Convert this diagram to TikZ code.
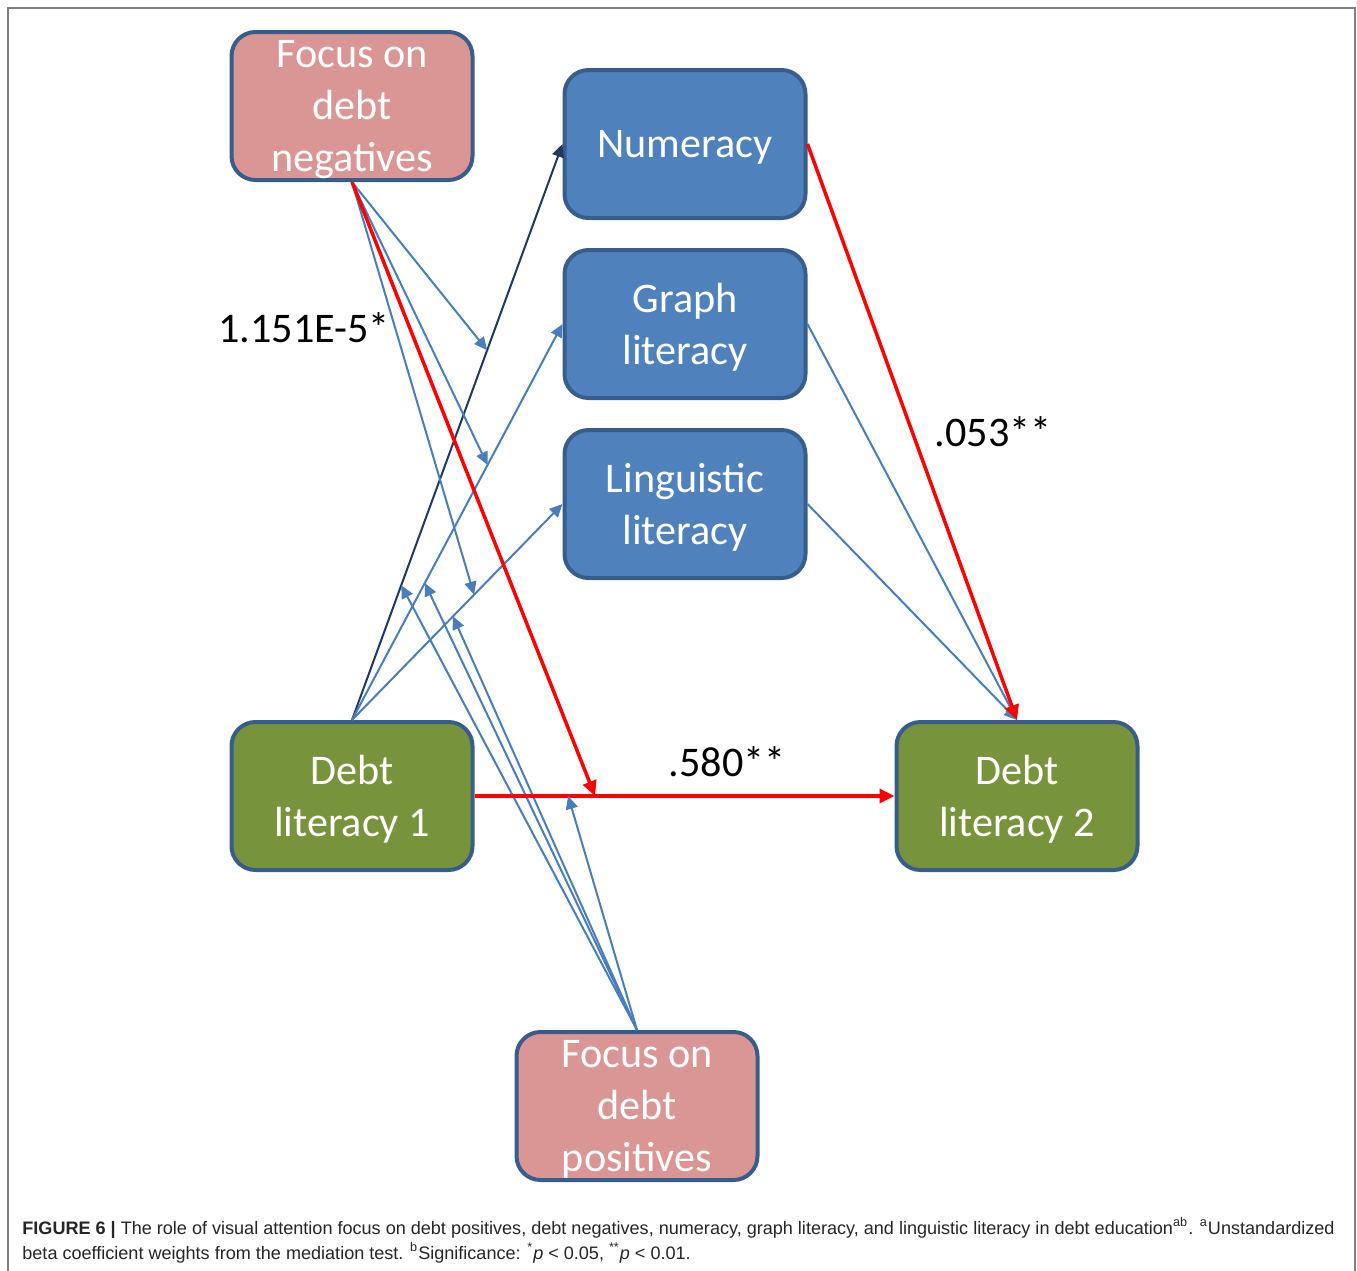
\documentclass[tikz,border=0pt]{standalone}
\usepackage{fontspec}
\setmainfont{Carlito}
\newfontfamily\capfont{Liberation Sans}
\usetikzlibrary{arrows.meta}
\definecolor{negpink}{RGB}{217,150,148}
\definecolor{medblue}{RGB}{79,129,189}
\definecolor{dlgreen}{RGB}{119,147,60}
\definecolor{edgeblue}{RGB}{56,93,138}
\definecolor{linkblue}{RGB}{74,126,187}
\definecolor{linknavy}{RGB}{31,56,100}

\begin{document}
\begin{tikzpicture}[x=0.5pt,y=-0.5pt,
    box/.style={draw=edgeblue,line width=2pt,rounded corners=12pt,minimum width=120.5pt,minimum height=74pt,inner sep=0pt,text depth=0pt,align=center,text=white,font=\fontsize{21.1}{26}\selectfont},
    link/.style={linkblue,line width=1pt,-{Triangle[length=6.5pt,width=6pt]}},
    redlink/.style={red,line width=1.75pt,-{Triangle[length=7.5pt,width=7pt]}},
    coef/.style={font=\fontsize{21.1}{26}\selectfont},
    caption/.style={anchor=base west,inner sep=0pt,text=black!85,font=\capfont\fontsize{9.03}{12.5}\selectfont}]
    \useasboundingbox (0,0) rectangle (1357,1271);
    % Draw frame
    \draw[gray,line width=0.75pt] (8,1271) -- (8,8) -- (1355,8) -- (1355,1271);
    % Draw boxes
    \node[box,fill=negpink] (neg) at (352,106) {Focus on\\debt\\negatives};
    \node[box,fill=medblue] (num) at (685,144) {Numeracy};
    \node[box,fill=medblue] (graph) at (685,324) {Graph\\literacy};
    \node[box,fill=medblue] (ling) at (685,504) {Linguistic\\literacy};
    \node[box,fill=dlgreen] (dl1) at (352,796) {Debt\\literacy 1};
    \node[box,fill=dlgreen] (dl2) at (1017,796) {Debt\\literacy 2};
    \node[box,fill=negpink] (pos) at (637,1106) {Focus on\\debt\\positives};
    % Draw paths through the mediators
    \draw[link,linknavy] (dl1.north) -- (num.west) coordinate[pos=0.642] (numN) coordinate[pos=0.234] (numP);
    \draw[link] (dl1.north) -- (graph.west) coordinate[pos=0.644] (graphN) coordinate[pos=0.346] (graphP);
    \draw[link] (dl1.north) -- (ling.west) coordinate[pos=0.58] (lingN) coordinate[pos=0.48] (lingP);
    \draw[link] (graph.east) -- (dl2.north);
    \draw[link] (ling.east) -- (dl2.north);
    \draw[redlink] (num.east) -- (dl2.north);
    % Draw moderation by focus on positives
    \draw[link] (pos.north) -- (numP);
    \draw[link] (pos.north) -- (graphP);
    \draw[link] (pos.north) -- (lingP);
    % Draw moderation by focus on negatives
    \draw[link] (neg.south) -- (numN);
    \draw[link] (neg.south) -- (graphN);
    \draw[link] (neg.south) -- (lingN);
    % Draw direct path
    \draw[redlink] (dl1.east) -- (dl2.west) coordinate[pos=0.287] (dirN) coordinate[pos=0.223] (dirP);
    \draw[link] (pos.north) -- (dirP);
    \draw[redlink] (neg.south) -- (dirN);
    % Coefficients
    \node[coef] (bneg) at (304,328) {1.151E-5*};
    \node[coef] (bnum) at (993,432) {.053**};
    \node[coef] (bdir) at (727,762) {.580**};
    % Caption
    \node[caption] (cap1) at (22,1234) {\textbf{FIGURE 6 |} The role of visual attention focus on debt positives, debt negatives, numeracy, graph literacy, and linguistic literacy in debt education\textsuperscript{ab}. \textsuperscript{a}Unstandardized};
    \node[caption] (cap2) at (22,1259) {beta coefficient weights from the mediation test. \textsuperscript{b}Significance: \textsuperscript{*}\textit{p} < 0.05, \textsuperscript{**}\textit{p} < 0.01.};
\end{tikzpicture}
\end{document}
